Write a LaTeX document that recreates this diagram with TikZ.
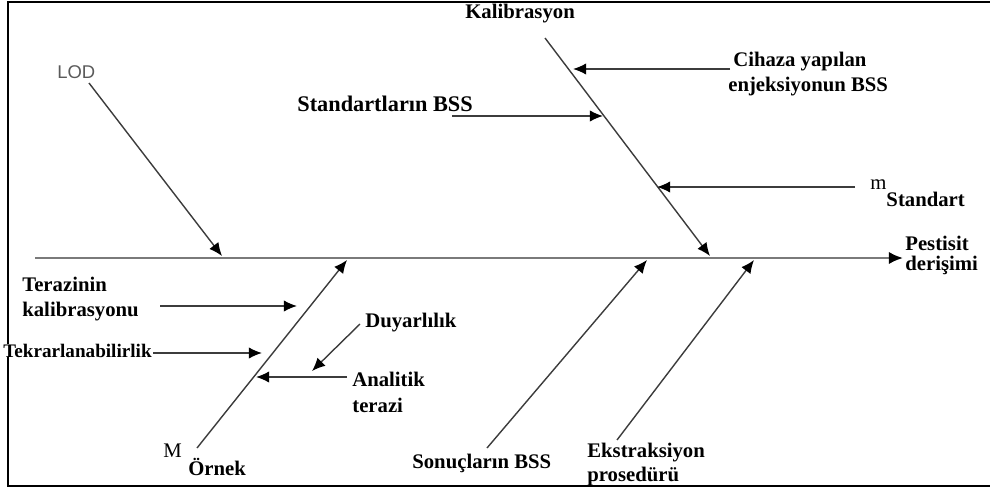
\documentclass[tikz,border=0pt]{standalone}
\usepackage{fontspec}
\setmainfont{Liberation Serif}
\setsansfont{Liberation Sans}
\usetikzlibrary{positioning,arrows.meta}
\definecolor{BoneGray}{HTML}{3C3C3C}
\definecolor{SpineGray}{HTML}{7A7A7A}
\definecolor{LodGray}{HTML}{5A5A5A}

\begin{document}
\begin{tikzpicture}[x=0.02cm, y=-0.02cm,
  every node/.style={inner sep=0pt, anchor=base west, font=\fontsize{11.8}{14}\selectfont\bfseries},
  cause/.style={draw=BoneGray, line width=0.8pt, -{Latex[length=7.5pt,width=6.5pt,color=black]}},
  spine/.style={draw=SpineGray, line width=1.3pt, -{Latex[length=8pt,width=7pt,color=black]}}]
  \useasboundingbox (0,0) rectangle (990,490);
  % frame
  \draw[line width=1.2pt] (990,2) -- (8,2) -- (8,486) -- (990,486);

  % labels
  \node[font=\sffamily\fontsize{10.5}{12}\selectfont, text=LodGray] (lod) at (57,78) {LOD};
  \node (kal) at (465,18) {Kalibrasyon};
  \node (ciha1) at (733,66) {Cihaza yapılan};
  \node (ciha2) at (728,91) {enjeksiyonun BSS};
  \node[font=\fontsize{12.7}{14}\selectfont\bfseries] (std) at (297,111) {Standartların BSS};
  \node (mstd) at (870,206) {\raisebox{9.6pt}{\mdseries m}Standart};
  \node (pest1) at (905,250) {Pestisit};
  \node (pest2) at (905,270) {derişimi};
  \node (ter1) at (22,291) {Terazinin};
  \node (ter2) at (22,316) {kalibrasyonu};
  \node[anchor=base east, fill=white, font=\fontsize{10.9}{13}\selectfont\bfseries] (tekr) at (152,357) {Tekrarlanabilirlik};
  \node (duy) at (365,327) {Duyarlılık};
  \node (anal1) at (352,386) {Analitik};
  \node (anal2) at (352,412) {terazi};
  \node (bigm) at (163,457) {\mdseries M};
  \node (ornek) at (188,475) {Örnek};
  \node (sonuc) at (412,468) {Sonuçların BSS};
  \node (eks1) at (587,457) {Ekstraksiyon};
  \node (eks2) at (587,481) {prosedürü};

  % end points
  \coordinate (tail) at (35,258);
  \coordinate (head) at (903,258);
  \coordinate (lodS) at (89,83);    \coordinate (lodE) at (222,256);
  \coordinate (kalS) at (545,38);   \coordinate (kalE) at (710,256);
  \coordinate (cihS) at (730,69);   \coordinate (cihE) at (573,69);
  \coordinate (stdS) at (452,116);  \coordinate (stdE) at (603,116);
  \coordinate (mstdS) at (855,187); \coordinate (mstdE) at (657,187);
  \coordinate (ornS) at (197,448);  \coordinate (ornE) at (347,260);
  \coordinate (terS) at (160,306);  \coordinate (terE) at (297,306);
  \coordinate (tekS) at (153,353);  \coordinate (tekE) at (262,353);
  \coordinate (duyS) at (360,324);  \coordinate (duyE) at (312,371);
  \coordinate (anaS) at (347,377);  \coordinate (anaE) at (256,377);
  \coordinate (sonS) at (487,448);  \coordinate (sonE) at (647,260);
  \coordinate (eksS) at (617,440);  \coordinate (eksE) at (754,260);

  % spine and bones
  \draw[spine] (tail) -- (head);
  \draw[cause] (lodS) -- (lodE);
  \draw[cause] (kalS) -- (kalE);
  \draw[cause] (ornS) -- (ornE);
  \draw[cause] (sonS) -- (sonE);
  \draw[cause] (eksS) -- (eksE);

  % sub causes
  \draw[cause] (cihS) -- (cihE);
  \draw[cause] (stdS) -- (stdE);
  \draw[cause] (mstdS) -- (mstdE);
  \draw[cause] (terS) -- (terE);
  \draw[cause] (tekS) -- (tekE);
  \draw[cause] (duyS) -- (duyE);
  \draw[cause] (anaS) -- (anaE);
\end{tikzpicture}
\end{document}
